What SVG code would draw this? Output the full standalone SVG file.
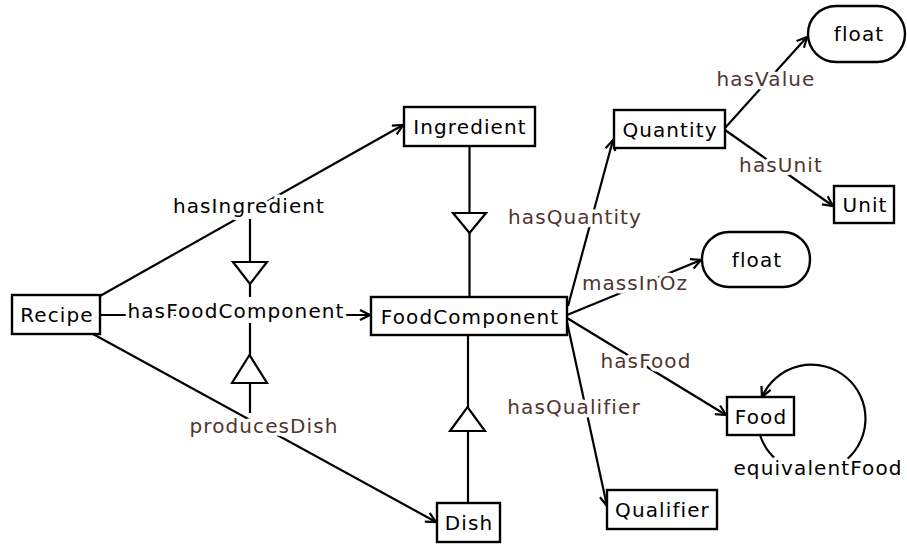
<svg xmlns="http://www.w3.org/2000/svg" width="907" height="544" viewBox="0 0 907 544">
<defs>
<style>
.box{fill:#fff;stroke:#000;stroke-width:2.4}
.t{font-family:"DejaVu Sans","Liberation Sans",sans-serif;font-size:20px;letter-spacing:1.1px;text-anchor:middle;fill:#000}
.e{fill:none;stroke:#000;stroke-width:2.2}
.tri{fill:#fff;stroke:#000;stroke-width:2.2;stroke-linejoin:miter}
.lb{font-family:"DejaVu Sans","Liberation Sans",sans-serif;font-size:20px;letter-spacing:1.1px;text-anchor:middle;stroke:#fff;stroke-width:7;stroke-linejoin:round;paint-order:stroke}
.br{fill:#503530}
.bk{fill:#000}
</style>
<marker id="arr" markerUnits="userSpaceOnUse" markerWidth="14" markerHeight="14" refX="11" refY="6" orient="auto">
<path d="M1,1 L11,6 L1,11" fill="none" stroke="#000" stroke-width="2.2"/>
</marker>
</defs>
<rect width="907" height="544" fill="#fff"/>
<g id="connectors">
<line class="e" x1="100" y1="296" x2="403" y2="125" marker-end="url(#arr)"/>
<line class="e" x1="100" y1="315" x2="370" y2="315" marker-end="url(#arr)"/>
<line class="e" x1="93" y1="334" x2="436" y2="522" marker-end="url(#arr)"/>
<line class="e" x1="568" y1="306" x2="613" y2="140" marker-end="url(#arr)"/>
<line class="e" x1="567" y1="315" x2="701" y2="260" marker-end="url(#arr)"/>
<line class="e" x1="567" y1="318" x2="726" y2="415" marker-end="url(#arr)"/>
<line class="e" x1="567" y1="322" x2="607" y2="506" marker-end="url(#arr)"/>
<line class="e" x1="725" y1="128" x2="807" y2="37" marker-end="url(#arr)"/>
<line class="e" x1="725" y1="130" x2="833" y2="206" marker-end="url(#arr)"/>
<path class="e" d="M760,435 A54,54 0 1 0 762,397" marker-end="url(#arr)"/>
<line class="e" x1="469.5" y1="146" x2="469.5" y2="297"/>
<polygon class="tri" points="453,213 486,213 469.5,233"/>
<line class="e" x1="468" y1="503" x2="468" y2="335"/>
<polygon class="tri" points="450,431 485,431 467.5,407"/>
<line class="e" x1="250" y1="219" x2="250" y2="297"/>
<polygon class="tri" points="233,262 267,262 250,284"/>
<line class="e" x1="250" y1="413" x2="250" y2="323"/>
<polygon class="tri" points="232,383 267,383 249.5,355"/>
<text class="lb bk" x="249" y="213">hasIngredient</text>
<text class="lb bk" x="236" y="318">hasFoodComponent</text>
<text class="lb br" x="264" y="433">producesDish</text>
<text class="lb br" x="575" y="224">hasQuantity</text>
<text class="lb br" x="635" y="290">massInOz</text>
<text class="lb br" x="646" y="368">hasFood</text>
<text class="lb br" x="574" y="414">hasQualifier</text>
<text class="lb br" x="766" y="86">hasValue</text>
<text class="lb br" x="781" y="172">hasUnit</text>
<text class="lb bk" x="818" y="475">equivalentFood</text>
</g>
<g id="Recipe"><rect class="box" x="12" y="295" width="88" height="39"/><text class="t" x="57" y="322">Recipe</text></g>
<g id="FoodComponent"><rect class="box" x="371" y="297" width="196" height="38"/><text class="t" x="470" y="323.5">FoodComponent</text></g>
<g id="Ingredient"><rect class="box" x="404" y="107" width="131" height="39"/><text class="t" x="470" y="134">Ingredient</text></g>
<g id="Dish"><rect class="box" x="437" y="503" width="63" height="39"/><text class="t" x="469" y="530">Dish</text></g>
<g id="Quantity"><rect class="box" x="614" y="110" width="111" height="38"/><text class="t" x="670" y="136.5">Quantity</text></g>
<g id="floatValue"><rect class="box" x="808" y="6" width="97" height="56" rx="28" ry="28"/><text class="t" x="859" y="41">float</text></g>
<g id="Unit"><rect class="box" x="834" y="186" width="60" height="37"/><text class="t" x="865" y="212">Unit</text></g>
<g id="floatMass"><rect class="box" x="702" y="232" width="108" height="55" rx="27" ry="27"/><text class="t" x="757" y="266.5">float</text></g>
<g id="Food"><rect class="box" x="727" y="397" width="67" height="38"/><text class="t" x="761" y="423.5">Food</text></g>
<g id="Qualifier"><rect class="box" x="607" y="490" width="110" height="39"/><text class="t" x="662.5" y="517">Qualifier</text></g>
</svg>
